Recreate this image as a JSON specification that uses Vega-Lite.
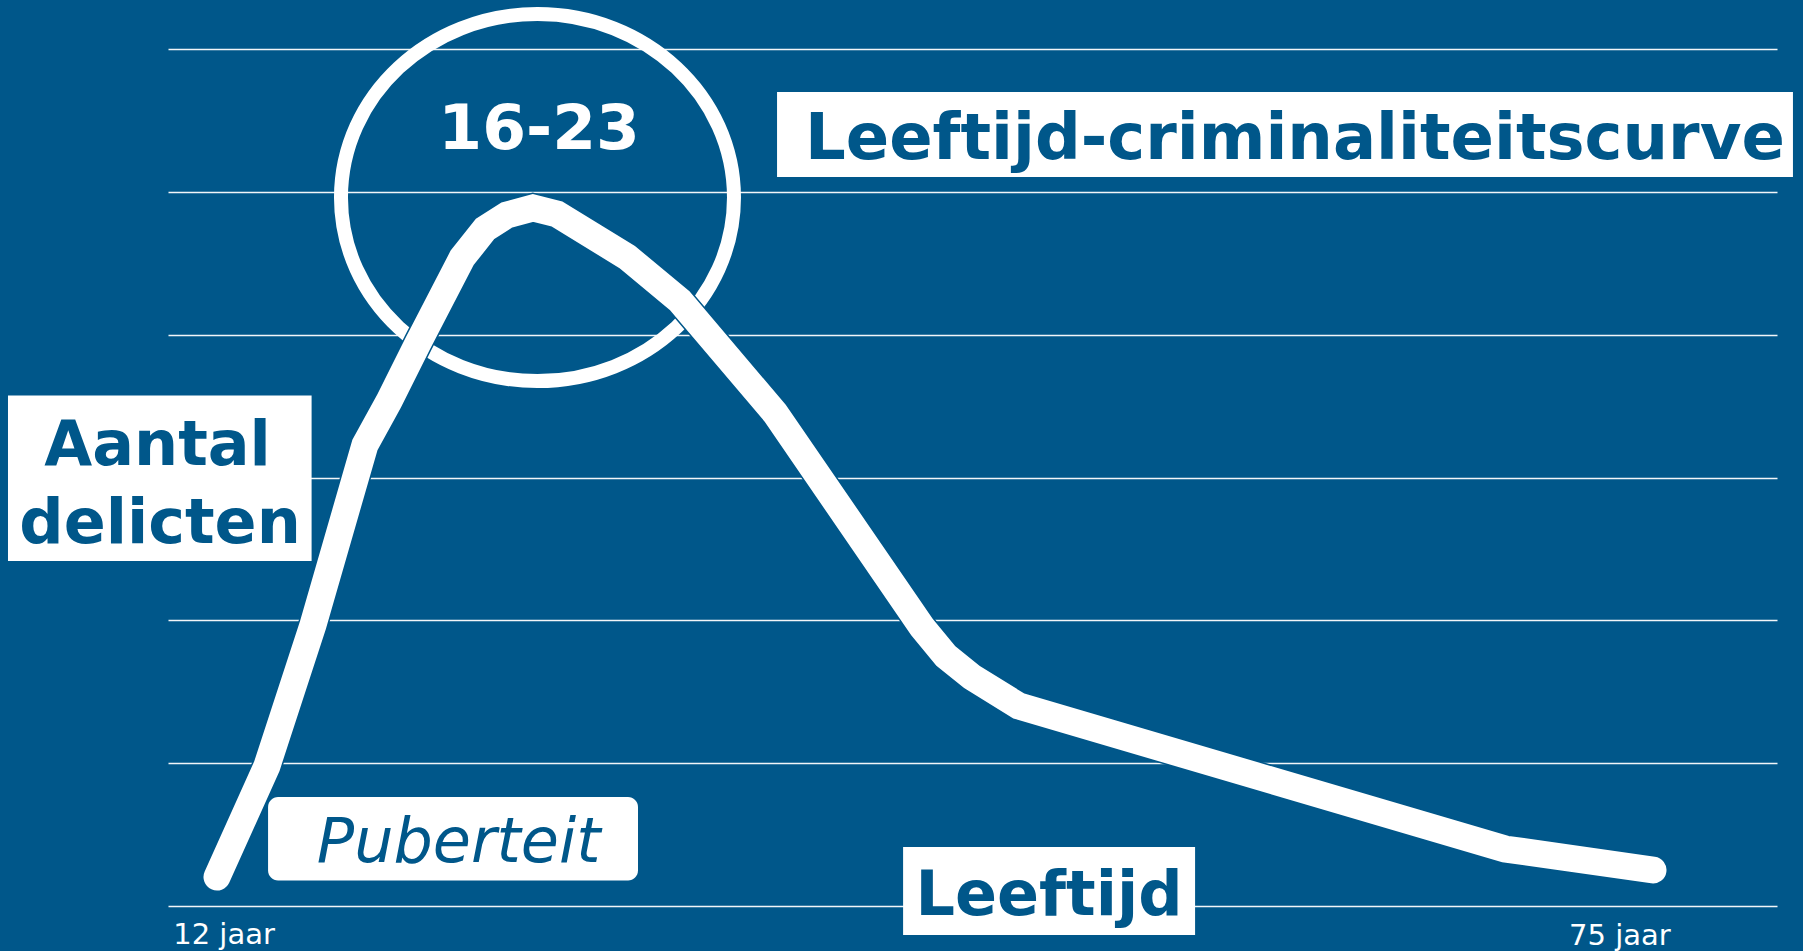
{
  "$schema": "https://vega.github.io/schema/vega-lite/v6.json",
  "width": 1609,
  "height": 857,
  "autosize": {"type": "none"},
  "padding": {"left": 168, "top": 49, "right": 26, "bottom": 45},
  "background": "#00578a",
  "config": {
    "view": {"stroke": null},
    "font": "DejaVu Sans",
    "axisY": {"grid": true, "gridColor": "#ffffff", "gridWidth": 1.5, "gridOpacity": 0.95, "labels": false, "ticks": false, "domain": false}
  },
  "layer": [
    {
      "data": {"values": [
        {"x0": 36.57, "x1": 81.14, "y0": 5.699, "y1": 5.104, "box": "titel"},
        {"x0": 2.83, "x1": 16.15, "y0": 3.574, "y1": 2.415, "box": "y-as"},
        {"x0": 42.10, "x1": 54.91, "y0": 0.413, "y1": -0.203, "box": "x-as"}
      ]},
      "mark": {"type": "rect", "fill": "#ffffff"},
      "encoding": {
        "x": {"field": "x0", "type": "quantitative", "scale": {"domain": [9.85, 80.44], "nice": false, "zero": false}, "axis": null},
        "x2": {"field": "x1"},
        "y": {"field": "y0", "type": "quantitative", "scale": {"domain": [0, 6], "nice": false, "zero": false}, "axis": {"values": [0, 1, 2, 3, 4, 5, 6], "title": null}},
        "y2": {"field": "y1"}
      }
    },
    {
      "data": {"values": [
        {"x0": 14.24, "x1": 30.47, "y0": 0.763, "y1": 0.179, "box": "puberteit"}
      ]},
      "mark": {"type": "rect", "fill": "#ffffff", "cornerRadius": 10},
      "encoding": {
        "x": {"field": "x0", "type": "quantitative", "axis": null},
        "x2": {"field": "x1"},
        "y": {"field": "y0", "type": "quantitative", "axis": {"values": [0, 1, 2, 3, 4, 5, 6], "title": null}},
        "y2": {"field": "y1"}
      }
    },
    {
      "data": {"values": [
        {"x": 59.29, "y": 5.230, "label": "Leeftijd-criminaliteitscurve"}
      ]},
      "mark": {"type": "text", "fontSize": 64, "fontWeight": "bold", "color": "#00578a", "align": "center", "baseline": "alphabetic"},
      "encoding": {
        "x": {"field": "x", "type": "quantitative", "axis": null},
        "y": {"field": "y", "type": "quantitative", "axis": {"values": [0, 1, 2, 3, 4, 5, 6], "title": null}},
        "text": {"field": "label"}
      }
    },
    {
      "data": {"values": [
        {"x": 9.39, "y": 3.088, "label": "Aantal"},
        {"x": 9.50, "y": 2.539, "label": "delicten"},
        {"x": 48.50, "y": -0.063, "label": "Leeftijd"}
      ]},
      "mark": {"type": "text", "fontSize": 62, "fontWeight": "bold", "color": "#00578a", "align": "center", "baseline": "alphabetic"},
      "encoding": {
        "x": {"field": "x", "type": "quantitative", "axis": null},
        "y": {"field": "y", "type": "quantitative", "axis": {"values": [0, 1, 2, 3, 4, 5, 6], "title": null}},
        "text": {"field": "label"}
      }
    },
    {
      "data": {"values": [
        {"x": 22.6, "y": 0.310, "label": "Puberteit"}
      ]},
      "mark": {"type": "text", "fontSize": 62, "fontStyle": "italic", "color": "#00578a", "align": "center", "baseline": "alphabetic"},
      "encoding": {
        "x": {"field": "x", "type": "quantitative", "axis": null},
        "y": {"field": "y", "type": "quantitative", "axis": {"values": [0, 1, 2, 3, 4, 5, 6], "title": null}},
        "text": {"field": "label"}
      }
    },
    {
      "data": {"values": [
        {"x": 26.13, "y": 5.300, "label": "16-23"}
      ]},
      "mark": {"type": "text", "fontSize": 63, "fontWeight": "bold", "color": "#ffffff", "align": "center", "baseline": "alphabetic"},
      "encoding": {
        "x": {"field": "x", "type": "quantitative", "axis": null},
        "y": {"field": "y", "type": "quantitative", "axis": {"values": [0, 1, 2, 3, 4, 5, 6], "title": null}},
        "text": {"field": "label"}
      }
    },
    {
      "data": {"values": [
        {"x": 12.31, "y": -0.266, "label": "12 jaar"},
        {"x": 73.55, "y": -0.273, "label": "75 jaar"}
      ]},
      "mark": {"type": "text", "fontSize": 29, "color": "#ffffff", "align": "center", "baseline": "alphabetic"},
      "encoding": {
        "x": {"field": "x", "type": "quantitative", "axis": null},
        "y": {"field": "y", "type": "quantitative", "axis": {"values": [0, 1, 2, 3, 4, 5, 6], "title": null}},
        "text": {"field": "label"}
      }
    },
    {
      "data": {"values": [
        {"x": 26.06, "y": 4.960, "label": "piek 16-23"}
      ]},
      "mark": {"type": "point", "shape": "M 1 0 C 1 0.516 0.552 0.934 0 0.934 C -0.552 0.934 -1 0.516 -1 0 C -1 -0.516 -0.552 -0.934 0 -0.934 C 0.552 -0.934 1 -0.516 1 0 Z", "size": 154449, "filled": false, "stroke": "#ffffff", "strokeWidth": 14, "opacity": 1},
      "encoding": {
        "x": {"field": "x", "type": "quantitative", "axis": null},
        "y": {"field": "y", "type": "quantitative", "axis": {"values": [0, 1, 2, 3, 4, 5, 6], "title": null}}
      }
    },
    {
      "data": {"name": "curve", "values": [
        {"leeftijd": 12.0, "delicten": 0.203},
        {"leeftijd": 14.19, "delicten": 0.980},
        {"leeftijd": 16.21, "delicten": 1.967},
        {"leeftijd": 18.49, "delicten": 3.228},
        {"leeftijd": 19.55, "delicten": 3.536},
        {"leeftijd": 20.82, "delicten": 3.942},
        {"leeftijd": 22.75, "delicten": 4.537},
        {"leeftijd": 23.76, "delicten": 4.740},
        {"leeftijd": 24.72, "delicten": 4.838},
        {"leeftijd": 25.86, "delicten": 4.887},
        {"leeftijd": 26.92, "delicten": 4.845},
        {"leeftijd": 29.99, "delicten": 4.544},
        {"leeftijd": 32.31, "delicten": 4.236},
        {"leeftijd": 36.48, "delicten": 3.452},
        {"leeftijd": 42.93, "delicten": 1.953},
        {"leeftijd": 43.98, "delicten": 1.750},
        {"leeftijd": 45.12, "delicten": 1.603},
        {"leeftijd": 47.18, "delicten": 1.400},
        {"leeftijd": 68.51, "delicten": 0.399},
        {"leeftijd": 75.0, "delicten": 0.252}
      ]},
      "layer": [
        {
          "mark": {"type": "line", "color": "#00578a", "strokeWidth": 30, "strokeCap": "round", "strokeJoin": "miter"},
          "encoding": {
            "x": {"field": "leeftijd", "type": "quantitative", "axis": null},
            "y": {"field": "delicten", "type": "quantitative", "axis": {"values": [0, 1, 2, 3, 4, 5, 6], "title": null}}
          }
        },
        {
          "mark": {"type": "line", "color": "#ffffff", "strokeWidth": 27, "strokeCap": "round", "strokeJoin": "miter"},
          "encoding": {
            "x": {"field": "leeftijd", "type": "quantitative", "axis": null},
            "y": {"field": "delicten", "type": "quantitative", "axis": {"values": [0, 1, 2, 3, 4, 5, 6], "title": null}}
          }
        }
      ]
    }
  ]
}
